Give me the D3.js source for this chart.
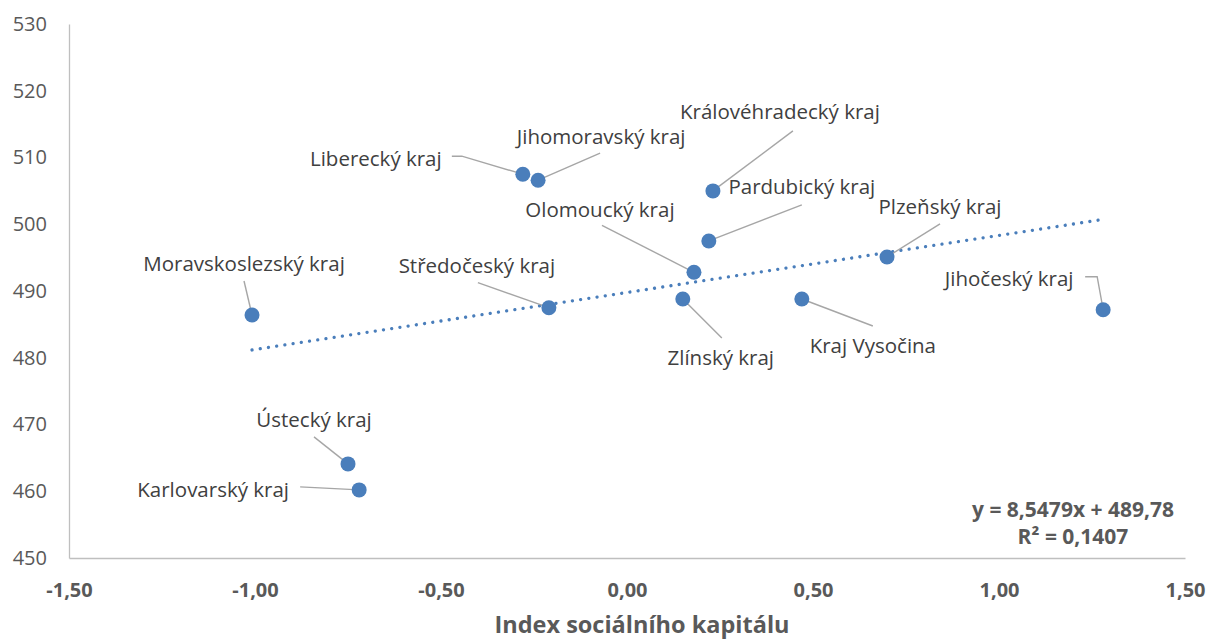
<!DOCTYPE html>
<html>
<head>
<meta charset="utf-8">
<script src="https://cdn.jsdelivr.net/npm/d3@7"></script>
<style>
  html, body { margin: 0; padding: 0; background: #fff; }
  svg { display: block; }
</style>
</head>
<body>
<script>
// data
const regions = ["Liberecký kraj", "Jihomoravský kraj", "Královéhradecký kraj", "Pardubický kraj",
  "Olomoucký kraj", "Plzeňský kraj", "Jihočeský kraj", "Moravskoslezský kraj", "Středočeský kraj",
  "Zlínský kraj", "Kraj Vysočina", "Ústecký kraj", "Karlovarský kraj"];
const socialIndex = [-0.28, -0.239, 0.231, 0.22, 0.18, 0.699, 1.28, -1.008, -0.21, 0.15, 0.47, -0.75, -0.72];
const score = [507.5, 506.6, 505.0, 497.5, 492.8, 495.1, 487.2, 486.4, 487.5, 488.8, 488.8, 464.1, 460.2];

// trend line (Excel)
const slope = 8.5479, intercept = 489.78, r2 = 0.1407;

const xTicks = [-1.5, -1.0, -0.5, 0, 0.5, 1.0, 1.5];
const yTicks = [450, 460, 470, 480, 490, 500, 510, 520, 530];

// label placement: text centre offset + leader line points, px relative to the point
const labelLayout = [
  { dx: -147, dy: -15, leader: [[-71, -18], [-61, -18]] },
  { dx: 63, dy: -43, leader: [[62, -27]] },
  { dx: 67, dy: -79, leader: [[80, -60]] },
  { dx: 93, dy: -54, leader: [[93, -36]] },
  { dx: -94, dy: -62, leader: [[-92, -47]] },
  { dx: 53, dy: -50, leader: [[53, -33]] },
  { dx: -94, dy: -31, leader: [[-18, -33], [-6, -33]] },
  { dx: -8, dy: -51, leader: [[-8, -34]] },
  { dx: -72, dy: -42, leader: [[-71, -25]] },
  { dx: 38, dy: 59, leader: [[39, 39]] },
  { dx: 71, dy: 47, leader: [[71, 27]] },
  { dx: -34, dy: -44, leader: [[-34, -27]] },
  { dx: -146, dy: 0, leader: [[-59, -3]] }
];

const width = 1208, height = 639;
const font = "'Open Sans', 'DejaVu Sans', sans-serif";
const blue = "#4a7ebb";

const x = d3.scaleLinear().domain([-1.5, 1.5]).range([69, 1185]);
const y = d3.scaleLinear().domain([450, 530]).range([558, 24]);
const fmt = v => d3.format(".2f")(v).replace(".", ",").replace("−", "-");

const svg = d3.select("body").append("svg")
  .attr("width", width)
  .attr("height", height)
  .attr("font-family", font);

// axes
const yAxis = svg.append("g")
  .attr("transform", `translate(${x(-1.5)},0)`)
  .call(d3.axisLeft(y).tickValues(yTicks).tickSize(0).tickPadding(22).tickFormat(d3.format("d")));
yAxis.select(".domain").attr("stroke", "#bfbfbf").attr("stroke-width", 1.3);
yAxis.selectAll("text").attr("font-size", 20).attr("fill", "#595959").attr("font-family", font);

const xAxis = svg.append("g")
  .attr("transform", `translate(0,${y(450)})`)
  .call(d3.axisBottom(x).tickValues(xTicks).tickSize(0).tickPadding(25).tickFormat(fmt));
xAxis.select(".domain").attr("stroke", "#bfbfbf").attr("stroke-width", 1.3);
xAxis.selectAll("text").attr("font-size", 20).attr("font-weight", "bold").attr("fill", "#595959").attr("font-family", font);

svg.append("text")
  .attr("x", x(0) + 15)
  .attr("y", 633)
  .attr("text-anchor", "middle")
  .attr("font-size", 23.5)
  .attr("font-weight", "bold")
  .attr("fill", "#595959")
  .text("Index sociálního kapitálu");

// trendline
const xmin = d3.min(socialIndex), xmax = d3.max(socialIndex);
svg.append("line")
  .attr("x1", x(xmin)).attr("y1", y(slope * xmin + intercept))
  .attr("x2", x(xmax)).attr("y2", y(slope * xmax + intercept))
  .attr("stroke", blue)
  .attr("stroke-width", 3.3)
  .attr("stroke-linecap", "round")
  .attr("stroke-dasharray", "0.01 8.3");

// leader lines
regions.forEach((name, i) => {
  const px = x(socialIndex[i]), py = y(score[i]);
  const pts = labelLayout[i].leader.map(p => [px + p[0], py + p[1]]).concat([[px, py]]);
  svg.append("path")
    .attr("d", d3.line()(pts))
    .attr("fill", "none")
    .attr("stroke", "#a6a6a6")
    .attr("stroke-width", 1.4);
});

// points
svg.append("g").selectAll("circle")
  .data(regions)
  .join("circle")
  .attr("cx", (d, i) => x(socialIndex[i]))
  .attr("cy", (d, i) => y(score[i]))
  .attr("r", 7.5)
  .attr("fill", blue);

// labels
svg.append("g").selectAll("text")
  .data(regions)
  .join("text")
  .attr("x", (d, i) => x(socialIndex[i]) + labelLayout[i].dx)
  .attr("y", (d, i) => y(score[i]) + labelLayout[i].dy)
  .attr("dy", "0.35em")
  .attr("text-anchor", "middle")
  .attr("font-size", 20.5)
  .attr("fill", "#404040")
  .text(d => d);

// equation
const eq = svg.append("text")
  .attr("text-anchor", "middle")
  .attr("font-size", 21)
  .attr("font-weight", "bold")
  .attr("fill", "#595959");
eq.append("tspan").attr("x", 1073).attr("y", 517)
  .text(`y = ${String(slope).replace(".", ",")}x + ${String(intercept).replace(".", ",")}`);
eq.append("tspan").attr("x", 1073).attr("y", 544)
  .text(`R² = ${String(r2).replace(".", ",")}`);
</script>
</body>
</html>
